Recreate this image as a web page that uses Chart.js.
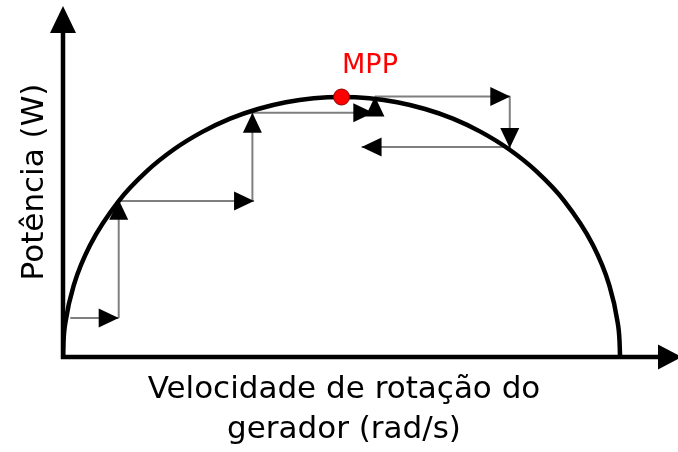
<!DOCTYPE html>
<html>
<head>
<meta charset="utf-8">
<script src="https://cdn.jsdelivr.net/npm/chart.js@4"></script>
<style>
  html, body { margin: 0; padding: 0; background: #fff; }
  #wrap { width: 678px; height: 452px; }
</style>
</head>
<body>
<div id="wrap"><canvas id="mppchart" width="678" height="452"></canvas></div>
<script>
// P x velocidade (escala 0..100)
const curveX = [0, 0.1, 0.5, 2, 5, 10, 15, 20, 25, 30, 35, 40, 45, 50, 55, 60, 65, 70, 75, 80, 85, 90, 95, 98, 99.5, 99.9, 100];
const curveY = [0, 6.3, 14.1, 28, 43.6, 60, 71.4, 80, 86.6, 91.7, 95.4, 98, 99.5, 100, 99.5, 98, 95.4, 91.7, 86.6, 80, 71.4, 60, 43.6, 28, 14.1, 6.3, 0];

// passos do algoritmo (perturba e observa): [x0, y0, x1, y1]
const steps = [
    [1.3, 15, 10, 15],
    [10, 15, 10, 60.5],
    [10, 60, 34.3, 60],
    [34, 60, 34, 94],
    [34, 94, 55.7, 94],
    [56, 94, 56, 100.2],
    [56, 100.2, 80.3, 100.2],
    [80.2, 100.2, 80.2, 80.4],
    [80.2, 80.8, 53.6, 80.8]
];

const mppX = [50];
const mppY = [100];

const xMax = 110.4;
const yMax = 135.4;

const fontFam = "'DejaVu Sans', sans-serif";

const datasets = [];

datasets.push({
    label: "MPP",
    data: mppX.map((x, i) => ({ x: x, y: mppY[i] })),
    showLine: false,
    pointRadius: 8,
    pointBackgroundColor: "#ff0000",
    pointBorderColor: "#8b0000",
    pointBorderWidth: 1,
    clip: false,
    order: 0
});

datasets.push({
    label: "curva",
    data: curveX.map((x, i) => ({ x: x, y: curveY[i] })),
    showLine: true,
    borderColor: "#000",
    borderWidth: 4.5,
    pointRadius: 0,
    cubicInterpolationMode: "monotone",
    order: 1
});

steps.forEach((s, i) => {
    datasets.push({
        label: "passo" + i,
        data: [{ x: s[0], y: s[1] }, { x: s[2], y: s[3] }],
        showLine: true,
        borderColor: "#7f7f7f",
        borderWidth: 2,
        pointRadius: 0,
        arrow: true,
        order: 2
    });
});

function arrowHead(ctx, x0, y0, x1, y1, len, half) {
    const a = Math.atan2(y1 - y0, x1 - x0);
    ctx.save();
    ctx.translate(x1, y1);
    ctx.rotate(a);
    ctx.beginPath();
    ctx.moveTo(0, 0);
    ctx.lineTo(-len, -half);
    ctx.lineTo(-len, half);
    ctx.closePath();
    ctx.fillStyle = "#000";
    ctx.fill();
    ctx.restore();
}

// eixos, setas e textos
const diagramPlugin = {
    id: "diagram",
    afterDatasetsDraw(chart) {
        const ctx = chart.ctx;
        const xs = chart.scales.x;
        const ys = chart.scales.y;

        chart.data.datasets.forEach(ds => {
            if (!ds.arrow) return;
            const p0 = ds.data[0], p1 = ds.data[1];
            arrowHead(ctx,
                xs.getPixelForValue(p0.x), ys.getPixelForValue(p0.y),
                xs.getPixelForValue(p1.x), ys.getPixelForValue(p1.y), 20, 9.5);
        });

        const left = xs.getPixelForValue(0);
        const bottom = ys.getPixelForValue(0);
        ctx.save();
        ctx.strokeStyle = "#000";
        ctx.lineWidth = 4.5;
        ctx.beginPath();
        ctx.moveTo(left, bottom + 2);
        ctx.lineTo(left, 30);
        ctx.moveTo(left - 2, bottom);
        ctx.lineTo(660, bottom);
        ctx.stroke();
        ctx.restore();
        arrowHead(ctx, left, bottom, left, 6, 27, 13);
        arrowHead(ctx, left, bottom, 682, bottom, 24, 12.5);

        ctx.save();
        ctx.fillStyle = "#ff0000";
        ctx.font = "27px " + fontFam;
        ctx.textAlign = "center";
        ctx.textBaseline = "alphabetic";
        ctx.fillText("MPP", 370, 73);

        ctx.fillStyle = "#000";
        ctx.font = "31px " + fontFam;
        ctx.fillText("Velocidade de rotação do", 344, 398);
        ctx.fillText("gerador (rad/s)", 344, 438);

        ctx.translate(43, 182);
        ctx.rotate(-Math.PI / 2);
        ctx.fillText("Potência (W)", 0, 0);
        ctx.restore();
    }
};

new Chart(document.getElementById("mppchart"), {
    type: "scatter",
    data: { datasets: datasets },
    options: {
        responsive: false,
        animation: false,
        events: [],
        layout: { autoPadding: false, padding: { left: 63, right: 0, top: 5, bottom: 95 } },
        plugins: {
            legend: { display: false },
            tooltip: { enabled: false }
        },
        scales: {
            x: { type: "linear", display: false, min: 0, max: xMax },
            y: { type: "linear", display: false, min: 0, max: yMax }
        }
    },
    plugins: [diagramPlugin]
});
</script>
</body>
</html>
